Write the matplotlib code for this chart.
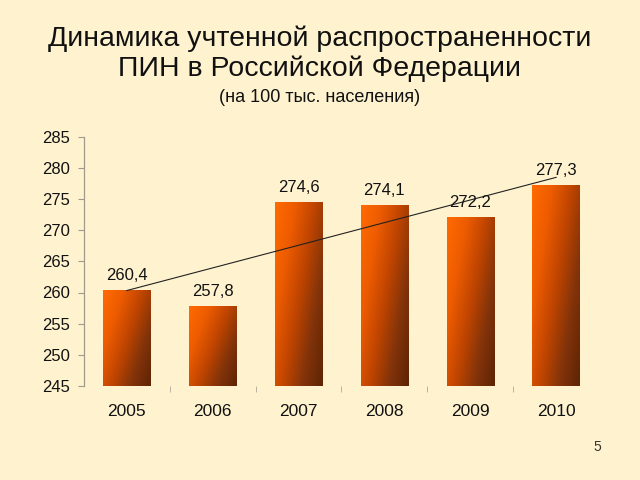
import numpy as np
import matplotlib
matplotlib.use("Agg")
import matplotlib.pyplot as plt
from matplotlib.colors import LinearSegmentedColormap

plt.rcParams['font.family'] = ['Liberation Sans', 'DejaVu Sans']

years = ["2005", "2006", "2007", "2008", "2009", "2010"]
values = [260.4, 257.8, 274.6, 274.1, 272.2, 277.3]
value_labels = ["260,4", "257,8", "274,6", "274,1", "272,2", "277,3"]
yticks = [245, 250, 255, 260, 265, 270, 275, 280, 285]

bg = "#FFF3CF"
fig = plt.figure(figsize=(6.4, 4.8), dpi=100, facecolor=bg)
ax = fig.add_axes([0.131, 0.196, 0.805, 0.519])
ax.set_facecolor(bg)

x = np.arange(len(years))
bars = ax.bar(x, [v - 245 for v in values], bottom=245, width=0.55,
              facecolor="none", edgecolor="none")

cmap = LinearSegmentedColormap.from_list(
    "og", ["#FF6A00", "#EE5C00", "#C04500", "#82330A", "#5E2404"])
ny, nx = 100, 60
u = np.linspace(0, 1, nx)[None, :]
v = np.linspace(0, 1, ny)[:, None]
grad = np.clip(0.6 * u + 0.4 * v, 0, 1)
for b in bars:
    x0, y0 = b.get_x(), b.get_y()
    w, h = b.get_width(), b.get_height()
    im = ax.imshow(grad, cmap=cmap, extent=(x0, x0 + w, y0, y0 + h),
                   aspect="auto", zorder=2, origin="upper")
    im.set_clip_path(b)

ax.set_xlim(-0.5, len(years) - 0.5)
ax.set_ylim(245, 285)

# linear trend line
coef = np.polyfit(x, values, 1)
ax.plot([x[0], x[-1]], np.polyval(coef, [x[0], x[-1]]), color="#222222",
        lw=0.8, zorder=3)

for xi, v, lab in zip(x, values, value_labels):
    ax.annotate(lab, (xi, v), xytext=(0, 5), textcoords="offset points",
                ha="center", va="bottom", fontsize=12, color="#111111",
                zorder=4)

for s in ["top", "right", "bottom"]:
    ax.spines[s].set_visible(False)
ax.spines["left"].set_color("#A09A8A")
ax.spines["left"].set_linewidth(0.9)

ax.set_yticks(yticks)
ax.set_yticklabels([str(t) for t in yticks], fontsize=12, color="#111111")
ax.tick_params(axis="y", length=4, color="#A09A8A", pad=6)

ax.set_xticks(x)
ax.set_xticklabels(years, fontsize=12.5, color="#111111")
ax.tick_params(axis="x", which="major", length=0, pad=13)
ax.set_xticks(np.arange(0.5, len(years) - 1, 1), minor=True)
ax.tick_params(axis="x", which="minor", length=4, color="#B0AA9A",
               direction="out")

fig.text(0.5, 0.92, "Динамика учтенной распространенности", ha="center",
         va="center", fontsize=20.5, color="#111111")
fig.text(0.5, 0.857, "ПИН в Российской Федерации", ha="center",
         va="center", fontsize=20.5, color="#111111")
fig.text(0.5, 0.797, "(на 100 тыс. населения)", ha="center",
         va="center", fontsize=13, color="#111111")
fig.text(0.933, 0.068, "5", ha="center", va="center", fontsize=10,
         color="#333333")

fig.savefig("out.png", dpi=100, facecolor=bg)
